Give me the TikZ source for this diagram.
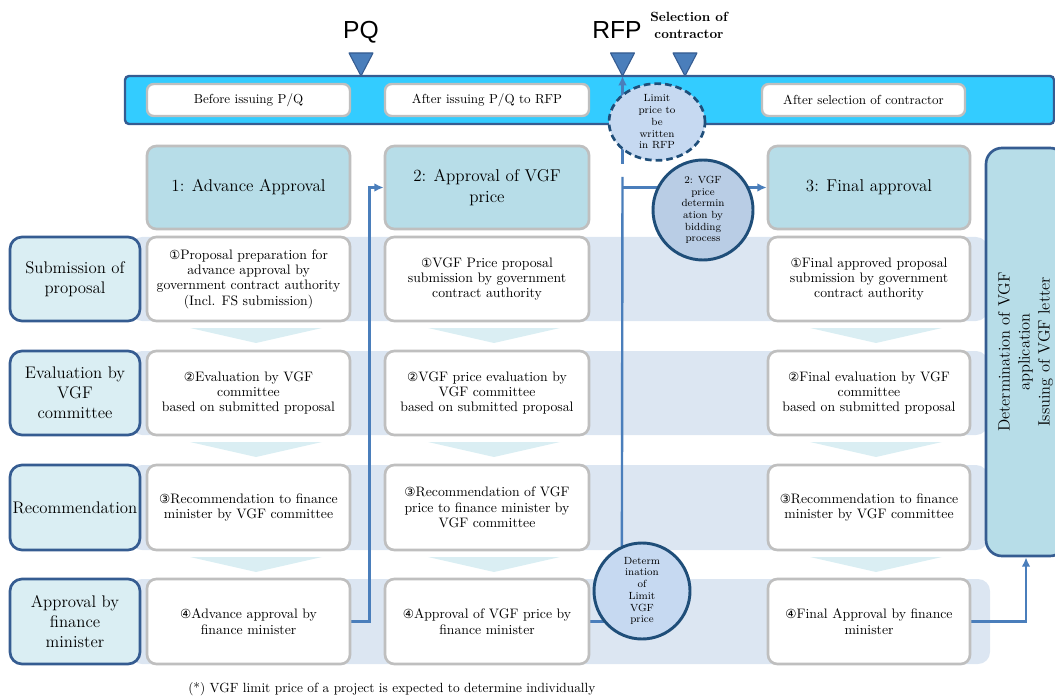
\documentclass[tikz,border=0pt]{standalone}
\usepackage{fontspec}
\newfontfamily\symfont{DejaVu Sans}
\newfontfamily\headfont{Liberation Sans}
\usetikzlibrary{arrows.meta,shapes.geometric,calc}

\definecolor{barfill}{HTML}{33CCFF}
\definecolor{darkb}{HTML}{355C91}
\definecolor{circb}{HTML}{1F4E79}
\definecolor{trifill}{HTML}{4A7EBB}
\definecolor{linec}{HTML}{4A7EBB}
\definecolor{headfill}{HTML}{B7DDE8}
\definecolor{labfill}{HTML}{DAEEF3}
\definecolor{bandfill}{HTML}{DCE6F2}
\definecolor{chevfill}{HTML}{DAEEF3}
\definecolor{grayb}{HTML}{BFBFBF}
\definecolor{bidfill}{HTML}{B9CDE5}
\definecolor{limfill}{HTML}{C6D9F1}

\newcommand{\cn}[1]{{\symfont\fontsize{9.4}{11}\selectfont #1}}
% rectangle node given by its corners: name, style, x1, y1, x2, y2, text
\newcommand{\boxnode}[7]{%
  \node[#2, minimum width={(#5-#3)*0.75pt}, minimum height={(#6-#4)*0.75pt}]
    (#1) at ({(#3+#5)/2},{(#4+#6)/2}) {#7};}

\pgfdeclarelayer{bg}
\pgfdeclarelayer{lines}
\pgfsetlayers{bg,lines,main}

\tikzset{
  graybox/.style={draw=grayb, line width=2pt, rounded corners=7pt, fill=white,
    inner sep=0pt, align=center, font=\fontsize{10.3}{11.5}\selectfont},
  headbox/.style={graybox, fill=headfill, font=\fontsize{12.8}{15.2}\selectfont},
  barlab/.style={graybox, line width=1.8pt, rounded corners=5pt,
    font=\fontsize{9.8}{12}\selectfont},
  rowlab/.style={draw=darkb, line width=2pt, rounded corners=9pt, fill=labfill,
    inner sep=0pt, align=center, font=\fontsize{12.6}{15}\selectfont},
  band/.style={fill=bandfill, rounded corners=9pt, inner sep=0pt},
  barstyle/.style={fill=barfill, draw=darkb, line width=1.8pt, rounded corners=3pt, inner sep=0pt},
  finalbox/.style={fill=headfill, draw=darkb, line width=2pt, rounded corners=12pt, inner sep=0pt},
  chev/.style={fill=chevfill},
  conn/.style={draw=linec, line width=1.8pt},
  arr/.style={conn, -{Latex[length=7pt,width=6.5pt]}},
  tri/.style={fill=trifill, draw=darkb, line width=0.8pt, line join=round},
  bubble/.style={circle, inner sep=0pt, draw=circb, line width=2.2pt,
    align=center, font=\fontsize{7.8}{8.8}\selectfont},
}

\begin{document}
\begin{tikzpicture}[x=0.75pt,y=-0.75pt]
\useasboundingbox (0,0) rectangle (1055,698);

% ---------- background: time bar, row bands, step chevrons ----------
\begin{pgfonlayer}{bg}
  \boxnode{bar}{barstyle}{125}{76}{1054}{124}{}
  \boxnode{band1}{band}{130}{237}{988}{321}{}
  \boxnode{band2}{band}{130}{351}{988}{435}{}
  \boxnode{band3}{band}{130}{465}{988}{550}{}
  \boxnode{band4}{band}{130}{579}{990}{664}{}
  \foreach \cx in {256,494,876}
    \foreach \yy in {321,435,550}
      \fill[chev] (\cx-66,\yy+7) -- (\cx+66,\yy+7) -- (\cx,\yy+22) -- cycle;
\end{pgfonlayer}

% ---------- milestones ----------
\node[font=\headfont\fontsize{18.5}{20}\selectfont, anchor=base, inner sep=0pt] (pq) at (361,39) {PQ};
\node[font=\headfont\fontsize{18.5}{20}\selectfont, anchor=base, inner sep=0pt] (rfp) at (617,39) {RFP};
\node[font=\bfseries\fontsize{10}{12.6}\selectfont, align=center, inner sep=0pt] (sel) at (689,25) {Selection of\\contractor};

\coordinate (pqtip) at (361,76);
\coordinate (rfptip) at (622.5,76);
\coordinate (seltip) at (685,76);
\foreach \t in {pqtip,rfptip,seltip}
  \path[tri] (\t) -- ++(-12,-23) -- ++(24,0) -- cycle;

% ---------- phase labels inside the bar ----------
\boxnode{ph1}{barlab}{147}{84}{350}{116}{Before issuing P/Q}
\boxnode{ph2}{barlab}{385}{84}{589}{116}{After issuing P/Q to RFP}
\boxnode{ph3}{barlab}{762}{84}{965}{116}{After selection of contractor}

% ---------- column headers ----------
\boxnode{h1}{headbox}{147}{146}{350}{229}{1: Advance Approval}
\boxnode{h2}{headbox}{385}{146}{589}{229}{2: Approval of VGF\\price}
\boxnode{h3}{headbox}{768}{146}{970}{229}{3: Final approval}

% ---------- row labels ----------
\boxnode{r1}{rowlab}{10}{237}{140}{321}{Submission of\\proposal}
\boxnode{r2}{rowlab}{10}{351}{140}{435}{Evaluation by\\VGF\\committee}
\boxnode{r3}{rowlab}{10}{465}{140}{550}{Recommendation}
\boxnode{r4}{rowlab}{10}{579}{140}{664}{Approval by\\finance\\minister}

% ---------- column 1 ----------
\boxnode{b11}{graybox}{147}{237}{350}{321}{\cn{①}Proposal preparation for\\advance approval by\\government contract authority\\(Incl. FS submission)}
\boxnode{b12}{graybox}{147}{351}{350}{435}{\cn{②}Evaluation by VGF\\committee\\based on submitted proposal}
\boxnode{b13}{graybox}{147}{465}{350}{550}{\cn{③}Recommendation to finance\\minister by VGF committee}
\boxnode{b14}{graybox}{147}{579}{350}{664}{\cn{④}Advance approval by\\finance minister}

% ---------- column 2 ----------
\boxnode{b21}{graybox}{385}{237}{589}{321}{\cn{①}VGF Price proposal\\submission by government\\contract authority}
\boxnode{b22}{graybox}{385}{351}{589}{435}{\cn{②}VGF price evaluation by\\VGF committee\\based on submitted proposal}
\boxnode{b23}{graybox}{385}{465}{589}{550}{\cn{③}Recommendation of VGF\\price to finance minister by\\VGF committee}
\boxnode{b24}{graybox}{385}{579}{589}{664}{\cn{④}Approval of VGF price by\\finance minister}

% ---------- column 3 ----------
\boxnode{b31}{graybox}{768}{237}{970}{321}{\cn{①}Final approved proposal\\submission by government\\contract authority}
\boxnode{b32}{graybox}{768}{351}{970}{435}{\cn{②}Final evaluation by VGF\\committee\\based on submitted proposal}
\boxnode{b33}{graybox}{768}{465}{970}{550}{\cn{③}Recommendation to finance\\minister by VGF committee}
\boxnode{b34}{graybox}{768}{579}{970}{664}{\cn{④}Final Approval by finance\\minister}

% ---------- final decision box ----------
\boxnode{rbox}{finalbox}{986}{148}{1066}{556}{}
\node[rotate=90, align=center, inner sep=0pt, font=\fontsize{12.3}{15}\selectfont]
  (rboxtext) at ($(rbox.center)+(-0.5,0)$) {Determination of VGF\\application\\Issuing of VGF letter};

% ---------- price bubbles ----------
\node[ellipse, minimum width=72pt, minimum height=57pt, inner sep=0pt,
      fill=limfill, draw=circb, line width=2pt, dash pattern=on 5pt off 3pt,
      align=center, font=\fontsize{7.8}{8.8}\selectfont] (limit) at (657,122)
  {Limit\\price to\\be\\written\\in RFP};
\node[bubble, minimum size=75pt, fill=bidfill] (bid) at (703,210)
  {2: VGF\\price\\determin\\ation by\\bidding\\process};
\node[bubble, minimum size=72pt, fill=limfill] (dlim) at (642,591)
  {Determ\\ination\\of\\Limit\\VGF\\price};

% ---------- connectors ----------
\coordinate (vtop) at (622.5,177);
\coordinate (vfoot) at (622.5,164);
\begin{pgfonlayer}{lines}
  \draw[arr] (b14.east) -- ++(18,0) |- (h2.west);
  \draw[conn] (b24.east) -- (b24.east -| dlim.center);
  \draw[conn] (dlim.114) -- (vtop);
  \draw[arr] (vtop |- h3.west) -- (h3.west);
  \draw[arr] (vfoot) -- (rfptip);
  \draw[arr] (b34.east) -| (rbox.south);
\end{pgfonlayer}

% ---------- footnote ----------
\node[anchor=west, inner sep=0pt, font=\fontsize{10}{12}\selectfont] (note) at (188,689)
  {(*) VGF limit price of a project is expected to determine individually};
\end{tikzpicture}
\end{document}
